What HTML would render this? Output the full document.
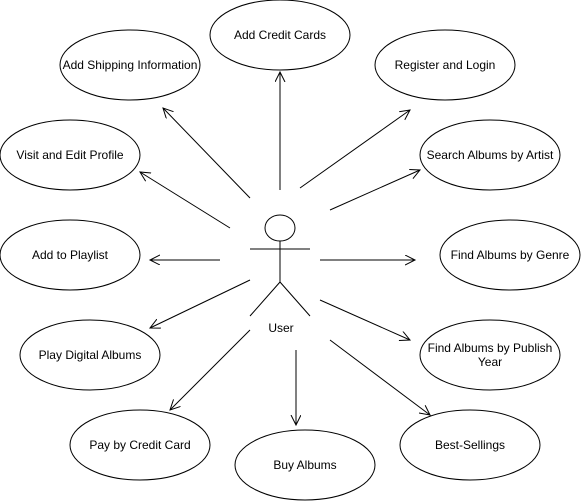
<!DOCTYPE html>
<html><head><style>body{margin:0;background:#fff}svg{display:block}text{font-family:"Liberation Sans",Arial,sans-serif;font-size:12px;fill:#000}</style></head>
<body>
<svg width="581" height="501" viewBox="0 0 581 501" xmlns="http://www.w3.org/2000/svg">
<defs><marker id="a" markerWidth="12" markerHeight="12" refX="10" refY="5" orient="auto" markerUnits="userSpaceOnUse"><path d="M0,0 L10,5 L0,10" fill="none" stroke="#000" stroke-width="1"/></marker></defs>
<g fill="#fff" stroke="#000" stroke-width="1">
<ellipse cx="280" cy="35" rx="70" ry="35"/>
<ellipse cx="130" cy="65" rx="70" ry="35"/>
<ellipse cx="445" cy="65" rx="70" ry="35"/>
<ellipse cx="70" cy="155" rx="70" ry="35"/>
<ellipse cx="490" cy="155" rx="70" ry="35"/>
<ellipse cx="70" cy="255" rx="70" ry="35"/>
<ellipse cx="510" cy="255" rx="70" ry="35"/>
<ellipse cx="90" cy="355" rx="70" ry="35"/>
<ellipse cx="490" cy="355" rx="70" ry="35"/>
<ellipse cx="140" cy="445" rx="70" ry="35"/>
<ellipse cx="305" cy="465" rx="70" ry="35"/>
<ellipse cx="470" cy="445" rx="70" ry="35"/>
<ellipse cx="280" cy="228" rx="15" ry="13"/>
</g>
<g stroke="#000" stroke-width="1" fill="none">
<path d="M250 249H310M280 241V282L250 316M280 282L310 316"/>
<g marker-end="url(#a)">
<line x1="280" y1="190" x2="280" y2="72"/>
<line x1="250" y1="198" x2="163" y2="108"/>
<line x1="300" y1="188" x2="410" y2="110"/>
<line x1="230" y1="228" x2="140" y2="172"/>
<line x1="330" y1="210" x2="420" y2="170"/>
<line x1="220" y1="260" x2="150" y2="260"/>
<line x1="320" y1="260" x2="415" y2="260"/>
<line x1="250" y1="280" x2="150" y2="328"/>
<line x1="320" y1="300" x2="410" y2="340"/>
<line x1="250" y1="330" x2="170" y2="410"/>
<line x1="296" y1="350" x2="296" y2="425"/>
<line x1="330" y1="340" x2="430" y2="415"/>
</g></g>
<g text-anchor="middle">
<text x="280" y="39">Add Credit Cards</text>
<text x="130" y="69">Add Shipping Information</text>
<text x="445" y="69">Register and Login</text>
<text x="70" y="159">Visit and Edit Profile</text>
<text x="490" y="159">Search Albums by Artist</text>
<text x="70" y="259">Add to Playlist</text>
<text x="510" y="259">Find Albums by Genre</text>
<text x="90" y="359">Play Digital Albums</text>
<text x="490" y="352">Find Albums by Publish</text>
<text x="490" y="366">Year</text>
<text x="140" y="449">Pay by Credit Card</text>
<text x="305" y="469">Buy Albums</text>
<text x="470" y="449">Best-Sellings</text>
<text x="281" y="332">User</text>
</g>
</svg>
</body></html>
